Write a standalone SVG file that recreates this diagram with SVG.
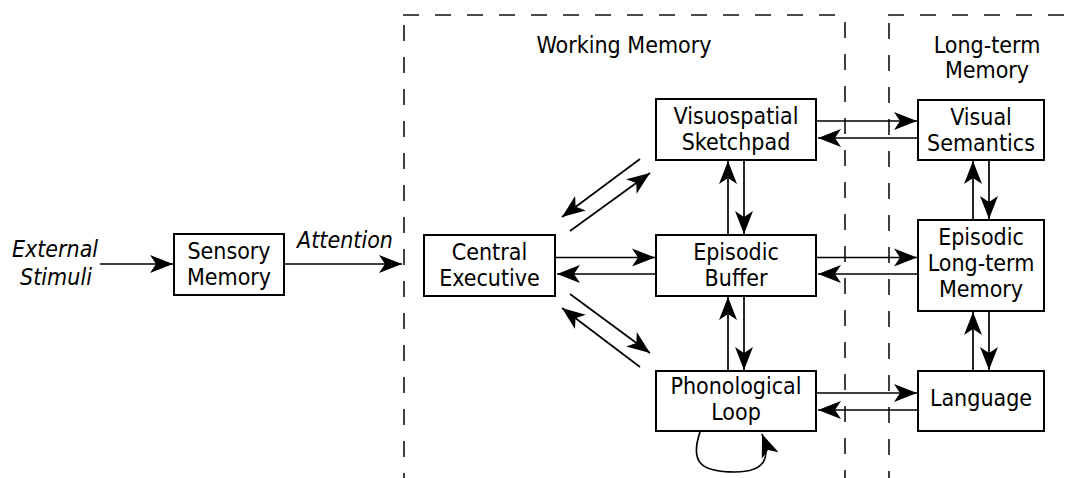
<svg xmlns="http://www.w3.org/2000/svg" width="1078" height="478" viewBox="0 0 1078 478">
<style>
.box{fill:#fff;stroke:#000;stroke-width:2}
.t{font-family:"DejaVu Sans Condensed","DejaVu Sans",sans-serif;font-stretch:condensed;font-size:23px;fill:#000;text-anchor:middle}
.it{font-style:italic}
.c{fill:none;stroke:#000;stroke-width:1.7;marker-end:url(#ah)}
.d{fill:none;stroke:#111;stroke-width:1.6;stroke-dasharray:16 16}
</style>
<defs>
<marker id="ah" markerUnits="userSpaceOnUse" markerWidth="28" markerHeight="22" viewBox="-25 -11 28 22" refX="0" refY="0" orient="auto">
<path d="M0,0 L-23,-9 L-17,0 L-23,9 Z" fill="#000"/>
</marker>
</defs>
<g id="regions">
<line class="d" x1="403" y1="15" x2="845" y2="15"/>
<line class="d" x1="888" y1="15" x2="1078" y2="15"/>
<line class="d" x1="404" y1="25" x2="404" y2="478"/>
<line class="d" x1="845" y1="22" x2="845" y2="478"/>
<line class="d" x1="889" y1="23" x2="889" y2="478"/>
<text class="t" x="624" y="53">Working Memory</text>
<text class="t" x="987" y="53">Long-term</text>
<text class="t" x="987" y="78">Memory</text>
</g>
<g id="connectors">
<line class="c" x1="100" y1="264" x2="173" y2="264"/>
<line class="c" x1="285" y1="264" x2="402" y2="264"/>
<line class="c" x1="555" y1="257.5" x2="655" y2="257.5"/>
<line class="c" x1="656" y1="274" x2="557" y2="274"/>
<line class="c" x1="640" y1="159" x2="562" y2="217"/>
<line class="c" x1="570" y1="231" x2="650" y2="173"/>
<line class="c" x1="570" y1="294" x2="650" y2="353"/>
<line class="c" x1="640" y1="367" x2="562" y2="308"/>
<line class="c" x1="728" y1="235" x2="728" y2="161"/>
<line class="c" x1="744" y1="160" x2="744" y2="234"/>
<line class="c" x1="728" y1="371" x2="728" y2="297"/>
<line class="c" x1="744" y1="296" x2="744" y2="370"/>
<line class="c" x1="973" y1="220" x2="973" y2="161"/>
<line class="c" x1="989" y1="160" x2="989" y2="219"/>
<line class="c" x1="973" y1="371" x2="973" y2="312"/>
<line class="c" x1="989" y1="311" x2="989" y2="370"/>
<line class="c" x1="816" y1="121" x2="917" y2="121"/>
<line class="c" x1="918" y1="138" x2="818" y2="138"/>
<line class="c" x1="816" y1="257.5" x2="917" y2="257.5"/>
<line class="c" x1="918" y1="274" x2="818" y2="274"/>
<line class="c" x1="816" y1="393" x2="917" y2="393"/>
<line class="c" x1="918" y1="410" x2="818" y2="410"/>
<path class="c" d="M700,432 C690,462 700,472 735,472 C768,472 770,455 762,434"/>
</g>
<g id="external">
<text class="t it" x="55" y="257">External</text>
<text class="t it" x="56" y="285">Stimuli</text>
</g>
<g id="attention">
<text class="t it" x="345" y="248">Attention</text>
</g>
<g id="sensory">
<rect class="box" x="174" y="234" width="110" height="61"/>
<text class="t" x="229" y="258.5">Sensory</text>
<text class="t" x="229" y="284.5">Memory</text>
</g>
<g id="central">
<rect class="box" x="424" y="235" width="131" height="61"/>
<text class="t" x="489.5" y="260">Central</text>
<text class="t" x="489.5" y="286">Executive</text>
</g>
<g id="visuospatial">
<rect class="box" x="656" y="99" width="160" height="61"/>
<text class="t" x="736" y="123.5">Visuospatial</text>
<text class="t" x="736" y="149.5">Sketchpad</text>
</g>
<g id="episodic">
<rect class="box" x="656" y="235" width="160" height="61"/>
<text class="t" x="736" y="260">Episodic</text>
<text class="t" x="736" y="286">Buffer</text>
</g>
<g id="phonological">
<rect class="box" x="656" y="371" width="160" height="60"/>
<text class="t" x="736" y="394">Phonological</text>
<text class="t" x="736" y="420">Loop</text>
</g>
<g id="visualsem">
<rect class="box" x="918" y="100" width="126" height="60"/>
<text class="t" x="981" y="125">Visual</text>
<text class="t" x="981" y="150.5">Semantics</text>
</g>
<g id="eltm">
<rect class="box" x="918" y="220" width="126" height="91"/>
<text class="t" x="981" y="245">Episodic</text>
<text class="t" x="981" y="271">Long-term</text>
<text class="t" x="981" y="297">Memory</text>
</g>
<g id="language">
<rect class="box" x="918" y="371" width="126" height="60"/>
<text class="t" x="981" y="406">Language</text>
</g>
</svg>
